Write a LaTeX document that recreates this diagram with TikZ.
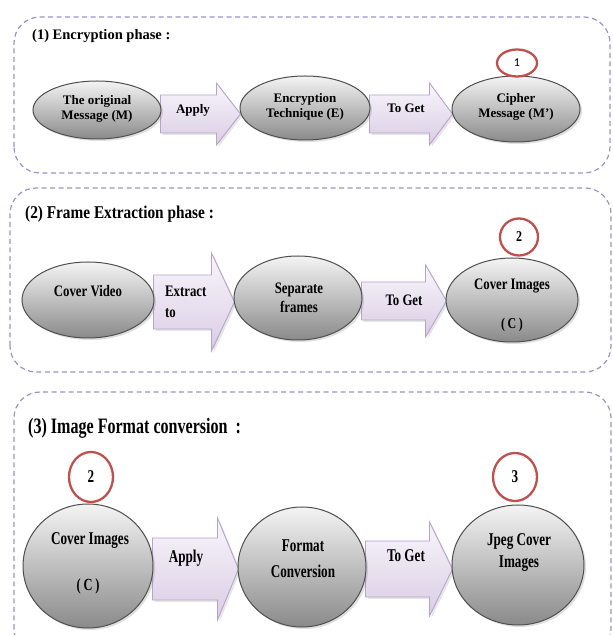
\documentclass[tikz,border=0pt]{standalone}
\usepackage{fontspec}
\setmainfont{Liberation Serif}
\newfontfamily\narrowA[FakeStretch=0.85]{Liberation Serif}
\newfontfamily\narrowB[FakeStretch=0.80]{Liberation Serif}
\newfontfamily\narrowC[FakeStretch=0.73]{Liberation Serif}
\newfontfamily\ringsans{Carlito}
\usetikzlibrary{shapes.geometric,shadows,calc,backgrounds}

\definecolor{boxline}{HTML}{9F8FC9}
\definecolor{arrowline}{HTML}{B7A3CD}
\definecolor{arrowtop}{HTML}{F9F6FB}
\definecolor{arrowbot}{HTML}{D9CCE4}
\definecolor{ellline}{HTML}{4F4F4F}
\definecolor{elltop}{HTML}{F4F4F4}
\definecolor{ellbot}{HTML}{8A8A8A}
\definecolor{ringred}{HTML}{C0504D}

\tikzset{
  phasebox/.style={draw=boxline, line width=1.2pt, dash pattern=on 5pt off 3.5pt, rounded corners=26pt},
  stage/.style={ellipse, draw=ellline, line width=1pt, top color=elltop, bottom color=ellbot,
    inner sep=0pt, drop shadow={opacity=0.25, shadow xshift=2pt, shadow yshift=-2pt}},
  arrowbox/.style={draw=arrowline, line width=0.9pt, top color=arrowtop, bottom color=arrowbot,
    drop shadow={opacity=0.2, shadow xshift=2pt, shadow yshift=-2pt}},
  ring/.style={ellipse, draw=ringred, line width=2.3pt, fill=white, inner sep=0pt},
  txA/.style={font=\fontsize{13}{15.5}\selectfont\bfseries, align=center, inner sep=0pt},
  txB/.style={font=\fontsize{16}{19}\selectfont\narrowB\bfseries, align=center, inner sep=0pt},
  txC/.style={font=\fontsize{18}{22}\selectfont\narrowC\bfseries, align=center, inner sep=0pt},
  phasetitle/.style={anchor=west, inner sep=0pt}
}

% block arrow between two stages: from, to, centre y, shaft half height, head half height, head length
\newcommand\blockarrow[6]{%
  \begin{pgfonlayer}{background}
  \path[arrowbox] let \p1=(#1.east), \p2=(#2.west) in
    (\x1-1pt,#3pt+#4pt) -- (\x2-#6pt+1pt,#3pt+#4pt) -- (\x2-#6pt+1pt,#3pt+#5pt)
    -- (\x2+1pt,#3pt) -- (\x2-#6pt+1pt,#3pt-#5pt) -- (\x2-#6pt+1pt,#3pt-#4pt)
    -- (\x1-1pt,#3pt-#4pt) -- cycle;
  \end{pgfonlayer}}

\begin{document}
\begin{tikzpicture}[x=1pt,y=1pt]
\useasboundingbox (0,0) rectangle (613,635);
\clip (0,0) rectangle (613,635);

% ---------- (1) Encryption phase ----------
\draw[phasebox] (14,462) rectangle (610,618);
\node[phasetitle, font=\fontsize{14.5}{17}\selectfont\bfseries] (t1) at (32,599) {(1) Encryption phase :};

\node[stage, minimum width=128pt, minimum height=58pt] (A) at (97,525) {};
\node[stage, minimum width=130pt, minimum height=64pt] (B) at (305,527) {};
\node[stage, minimum width=128pt, minimum height=66pt] (C) at (516,526) {};
\node[txA] (At) at (97,526) {The original\\Message (M)};
\node[txA] (Bt) at (305,528) {Encryption\\Technique (E)};
\node[txA] (Ct) at (516,528) {Cipher\\Message (M’)};
\node[ring, minimum width=40pt, minimum height=27pt] (r1) at (517,572) {\fontsize{12}{14}\selectfont\ringsans 1};

\blockarrow{A}{B}{521}{19}{31}{24}
\blockarrow{B}{C}{521}{19}{31}{23}
\node[txA] (a1) at (193,525) {Apply};
\node[txA] (a2) at (406,527) {To Get};

% ---------- (2) Frame Extraction phase ----------
\draw[phasebox] (10,263) rectangle (611,447);
\node[phasetitle, font=\fontsize{18}{21}\selectfont\narrowA\bfseries] (t2) at (25,421) {(2) Frame Extraction phase :};

\node[stage, minimum width=132pt, minimum height=76pt] (D) at (88,335) {};
\node[stage, minimum width=128pt, minimum height=84pt] (E) at (298,337) {};
\node[stage, minimum width=132pt, minimum height=84pt] (F) at (512,335) {};
\node[txB] (Dt) at (88,344) {Cover Video};
\node[txB] (Et) at (299,337) {Separate\\frames};
\node[txB] (Ft1) at (512,349) {Cover Images};
\node[txB, font=\fontsize{15}{17}\selectfont\narrowB\bfseries] (Ft2) at (512,310) {(\,C\,)};
\node[ring, minimum width=38pt, minimum height=37pt] (r2) at (519,398)
  {\fontsize{15}{17}\selectfont\narrowB\bfseries 2};

\blockarrow{D}{E}{333}{27}{49}{23}
\blockarrow{E}{F}{334}{19}{36}{21}
\node[txB, anchor=west] (a3) at (165,344) {Extract};
\node[txB, anchor=west] (a3b) at (165,322) {to};
\node[txB] (a4) at (404,335) {To Get};

% ---------- (3) Image Format conversion ----------
\draw[phasebox] (14,-20) rectangle (611,243);
\node[phasetitle, font=\fontsize{22}{26}\selectfont\narrowC\bfseries] (t3) at (28,207) {(3) Image Format conversion \ :};

\node[stage, minimum width=130pt, minimum height=124pt] (G) at (88,69) {};
\node[stage, minimum width=128pt, minimum height=120pt] (H) at (302,68) {};
\node[stage, minimum width=132pt, minimum height=120pt] (I) at (518,70) {};
\node[txC] (Gt1) at (90,94) {Cover Images};
\node[txC, font=\fontsize{17}{20}\selectfont\narrowC\bfseries] (Gt2) at (88,49) {(\,C\,)};
\node[txC] (Ht) at (303,76) {Format\\[4pt]Conversion};
\node[txC] (It) at (519,82) {Jpeg Cover\\Images};
\node[ring, minimum width=44pt, minimum height=50pt] (r3) at (91,158)
  {\fontsize{18}{20}\selectfont\narrowC\bfseries 2};
\node[ring, minimum width=44pt, minimum height=48pt] (r4) at (515,158)
  {\fontsize{18}{20}\selectfont\narrowC\bfseries 3};

\blockarrow{G}{H}{66}{31}{51}{21}
\blockarrow{H}{I}{66}{28}{47}{23}
\node[txC] (a5) at (186,77) {Apply};
\node[txC] (a6) at (406,79) {To Get};
\end{tikzpicture}
\end{document}
